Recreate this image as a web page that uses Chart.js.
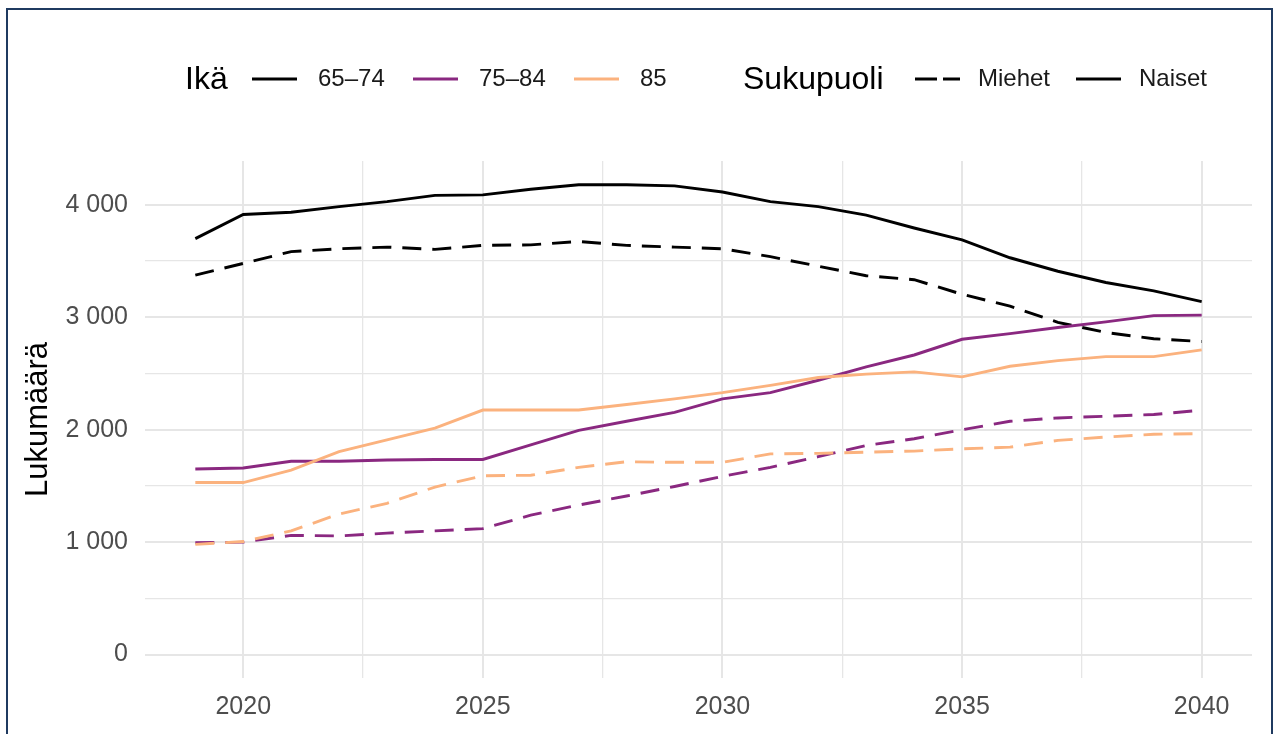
<!DOCTYPE html>
<html>
<head>
<meta charset="utf-8">
<script src="https://cdn.jsdelivr.net/npm/chart.js@4.4.1/dist/chart.umd.min.js"></script>
<style>
html, body { margin: 0; padding: 0; background: #fff; overflow: hidden; }
#wrap { position: relative; width: 1277px; height: 734px; }
#frame { position: absolute; left: 6px; top: 8px; width: 1263px; height: 780px; border: 2px solid #1f3a60; pointer-events: none; }
</style>
</head>
<body>
<div id="wrap">
  <canvas id="chart" width="1277" height="734"></canvas>
  <div id="frame"></div>
</div>
<script>
const years = [2019, 2020, 2021, 2022, 2023, 2024, 2025, 2026, 2027, 2028, 2029,
               2030, 2031, 2032, 2033, 2034, 2035, 2036, 2037, 2038, 2039, 2040];

// 65–74
const naiset6574 = [3700, 3915, 3935, 3985, 4030, 4085, 4090, 4140, 4180, 4180, 4170,
                    4115, 4030, 3985, 3910, 3795, 3690, 3530, 3410, 3310, 3235, 3140];
const miehet6574 = [3375, 3480, 3585, 3610, 3625, 3605, 3640, 3645, 3675, 3640, 3625,
                    3610, 3540, 3455, 3370, 3335, 3205, 3100, 2955, 2865, 2810, 2785];
// 75–84
const naiset7584 = [1650, 1660, 1720, 1720, 1730, 1735, 1735, 1865, 1995, 2075, 2155,
                    2275, 2330, 2440, 2560, 2665, 2805, 2855, 2910, 2960, 3015, 3020];
const miehet7584 = [995, 1000, 1060, 1055, 1080, 1100, 1120, 1240, 1330, 1410, 1495,
                    1585, 1665, 1760, 1860, 1920, 2000, 2075, 2105, 2120, 2135, 2175];
// 85
const naiset85 = [1530, 1530, 1640, 1805, 1910, 2015, 2175, 2175, 2175, 2225, 2275,
                  2330, 2395, 2465, 2495, 2515, 2470, 2565, 2615, 2650, 2650, 2710];
const miehet85 = [980, 1005, 1100, 1250, 1345, 1490, 1590, 1595, 1665, 1715, 1710,
                  1710, 1785, 1790, 1800, 1810, 1830, 1845, 1905, 1935, 1960, 1965];

const ageLabels = ['65–74', '75–84', '85'];
const sexLabels = ['Miehet', 'Naiset'];
const xTicks = [2020, 2022.5, 2025, 2027.5, 2030, 2032.5, 2035, 2037.5, 2040];
const yTicks = [0, 500, 1000, 1500, 2000, 2500, 3000, 3500, 4000];

const ageColors = ['#000000', '#8a2880', '#fbb27e'];
const dash = [19, 11];
const lw = 2.9;
const font = '"Liberation Sans", Arial, sans-serif';

function pts(arr) {
    return arr.map((v, i) => ({ x: years[i], y: v }));
}

function series(label, arr, color, dashed) {
    return {
        label: label,
        data: pts(arr),
        borderColor: color,
        backgroundColor: color,
        borderWidth: lw,
        borderDash: dashed ? dash : [],
        pointRadius: 0,
        tension: 0,
        fill: false
    };
}

// legend drawn ggplot style: title then keys, on one row
const ggLegend = {
    id: 'ggLegend',
    afterDraw(chart) {
        const c = chart.ctx;
        const y = 79;
        c.save();
        c.textBaseline = 'middle';
        c.textAlign = 'left';
        c.fillStyle = '#000';

        c.font = '32px ' + font;
        c.fillText('Ikä', 185, y + 1);
        c.fillText('Sukupuoli', 743, y + 1);

        const keyX = [252, 413, 574];
        c.font = '24px ' + font;
        c.lineWidth = lw;
        ageLabels.forEach((lab, i) => {
            c.strokeStyle = ageColors[i];
            c.setLineDash([]);
            c.beginPath();
            c.moveTo(keyX[i], y);
            c.lineTo(keyX[i] + 45, y);
            c.stroke();
            c.fillStyle = '#1a1a1a';
            c.fillText(lab, keyX[i] + 66, y);
        });

        const sexX = [915, 1076];
        sexLabels.forEach((lab, i) => {
            c.strokeStyle = '#000';
            c.setLineDash(i === 0 ? [22, 6] : []);
            c.beginPath();
            c.moveTo(sexX[i], y);
            c.lineTo(sexX[i] + 45, y);
            c.stroke();
            c.fillStyle = '#1a1a1a';
            c.fillText(lab, sexX[i] + 63, y);
        });
        c.restore();
    }
};

new Chart(document.getElementById('chart').getContext('2d'), {
    type: 'line',
    data: {
        datasets: [
            series('85 Miehet', miehet85, ageColors[2], true),
            series('85 Naiset', naiset85, ageColors[2], false),
            series('75–84 Miehet', miehet7584, ageColors[1], true),
            series('75–84 Naiset', naiset7584, ageColors[1], false),
            series('65–74 Miehet', miehet6574, ageColors[0], true),
            series('65–74 Naiset', naiset6574, ageColors[0], false)
        ]
    },
    options: {
        responsive: false,
        animation: false,
        devicePixelRatio: 1,
        layout: { padding: { top: 161, right: 25, left: 0, bottom: 0 } },
        plugins: {
            legend: { display: false },
            tooltip: { enabled: false }
        },
        scales: {
            x: {
                type: 'linear',
                min: 2017.95,
                max: 2041.05,
                afterBuildTicks: (scale) => { scale.ticks = xTicks.map(v => ({ value: v })); },
                afterFit: (scale) => { scale.height = 56; },
                border: { display: false },
                grid: {
                    drawTicks: false,
                    color: '#e6e6e6',
                    lineWidth: (ctx) => (ctx.tick && ctx.tick.value % 5 === 0) ? 2 : 1.3
                },
                ticks: {
                    autoSkip: false,
                    maxRotation: 0,
                    padding: 14,
                    color: '#4d4d4d',
                    font: { size: 25, family: font },
                    callback: (v) => (v % 5 === 0 ? String(v) : '')
                }
            },
            y: {
                type: 'linear',
                min: -209,
                max: 4391,
                afterBuildTicks: (scale) => { scale.ticks = yTicks.map(v => ({ value: v })); },
                afterFit: (scale) => { scale.width = 145; },
                border: { display: false },
                grid: {
                    drawTicks: false,
                    color: '#e6e6e6',
                    lineWidth: (ctx) => (ctx.tick && ctx.tick.value % 1000 === 0) ? 2 : 1.3
                },
                ticks: {
                    autoSkip: false,
                    padding: 17,
                    color: '#4d4d4d',
                    font: { size: 25, family: font },
                    callback: (v) => (v % 1000 === 0 ? String(v).replace(/\B(?=(\d{3})+(?!\d))/g, ' ') : '')
                },
                title: {
                    display: true,
                    text: 'Lukumäärä',
                    color: '#000',
                    font: { size: 31, family: font },
                    padding: { top: 20, bottom: 0 }
                }
            }
        }
    },
    plugins: [ggLegend]
});
</script>
</body>
</html>
